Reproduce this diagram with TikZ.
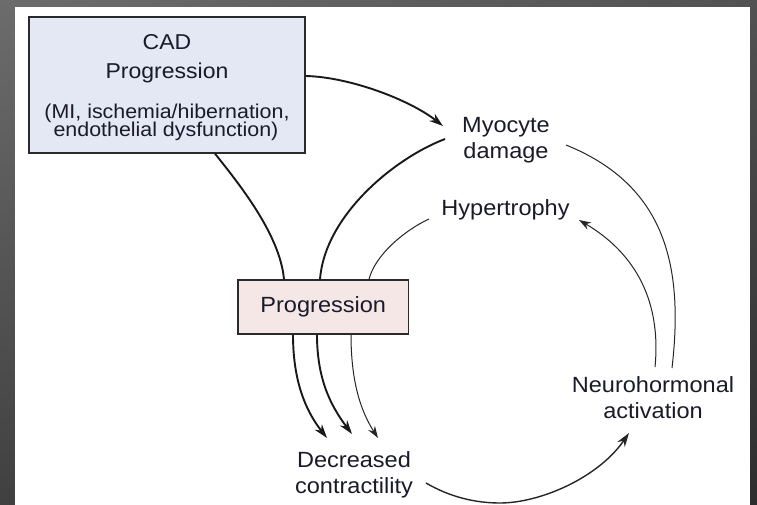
\documentclass[tikz,border=0pt]{standalone}
\usepackage{fontspec}
\setmainfont{Liberation Sans}[FakeStretch=1.07]
\usetikzlibrary{arrows.meta,shadings}
\definecolor{txt}{HTML}{1A1A2A}
\definecolor{cadfill}{HTML}{E4E7F4}
\definecolor{progfill}{HTML}{F6E7E7}
\definecolor{edgec}{HTML}{2A2A2A}
\definecolor{bgul}{HTML}{6C6C6C}
\definecolor{bgur}{HTML}{525252}
\definecolor{bgll}{HTML}{404040}
\definecolor{bglr}{HTML}{2E2E2E}
\begin{document}
\begin{tikzpicture}[x=1pt,y=1pt,
  thickline/.style={line width=1.9pt, draw=black!90},
  thinline/.style={line width=1.0pt, draw=black!85},
  midline/.style={line width=1.4pt, draw=black!85},
  bigtip/.style={-{Stealth[length=14pt,width=9pt,inset=4.5pt]}},
  smalltip/.style={-{Stealth[length=12pt,width=8pt,inset=4pt]}},
  boxstyle/.style={draw=edgec, line width=1.3pt, inner sep=0pt},
  lbl/.style={text=txt, font=\fontsize{22}{26}\selectfont, align=center, inner sep=0pt},
]
\shade[upper left=bgul, upper right=bgur, lower left=bgll, lower right=bglr] (0,0) rectangle (757,-505);
\fill[white] (15,-7) rectangle (750,-505);
\useasboundingbox (0,0) rectangle (757,-505);

% boxes
\node[boxstyle, fill=cadfill, minimum width=276pt, minimum height=136pt] (cad) at (167,-85) {};
\node[text=txt, inner sep=0pt, anchor=base, font=\fontsize{21.5}{24}\selectfont] (cadt1) at (167,-50) {CAD};
\node[text=txt, inner sep=0pt, anchor=base, font=\fontsize{21.5}{24}\selectfont] (cadt2) at (167,-78.5) {Progression};
\node[text=txt, inner sep=0pt, anchor=base, font=\fontsize{20}{22}\selectfont] (cadt3) at (167,-118.3) {(MI, ischemia/hibernation,};
\node[text=txt, inner sep=0pt, anchor=base, font=\fontsize{20}{22}\selectfont] (cadt4) at (166,-136.7) {endothelial dysfunction)};

\node[boxstyle, fill=progfill, minimum width=170.5pt, minimum height=54pt, text=txt, font=\fontsize{22}{26}\selectfont] (prog) at (323.25,-307) {Progression};

% labels
\node[lbl] (myo) at (506,-140.7) {Myocyte\\damage};
\node[lbl] (hyp) at (505.5,-209.4) {Hypertrophy};
\node[lbl] (neuro) at (653,-398) {Neurohormonal\\activation};
\node[lbl] (dec) at (354,-474.4) {Decreased\\contractility};

% connector ends
\coordinate (myoin) at (443,-126);
\coordinate (myoL) at (445,-139);
\coordinate (myoR) at (566,-145);
\coordinate (hypL) at (429,-219);
\coordinate (hypR) at (579,-220);
\coordinate (neuT1) at (672,-368);
\coordinate (neuT2) at (655,-367);
\coordinate (neuIn) at (629,-433);
\coordinate (decR) at (426,-483);
\coordinate (decB) at (500,-503);
\coordinate (decT1) at (327,-438);
\coordinate (decT2) at (352,-434);
\coordinate (decT3) at (378,-438);

% connectors
\draw[thickline, bigtip] ([yshift=9pt]cad.east) .. controls (350,-77) and (410,-100) .. (myoin);
\draw[thickline] ([xshift=48pt]cad.south) .. controls (240,-185) and (280,-235) .. ([xshift=-39.25pt]prog.north);
\draw[thickline] (myoL) .. controls (395,-158) and (325,-215) .. ([xshift=-3.25pt]prog.north);
\draw[thinline] (hypL) .. controls (405,-230) and (375,-255) .. ([xshift=45.75pt]prog.north);
\draw[thinline] (myoR) .. controls (665,-185) and (684,-265) .. (neuT1);
\draw[thinline, smalltip] (neuT2) .. controls (662,-295) and (630,-250) .. (hypR);
\draw[thickline, bigtip] ([xshift=-30.25pt]prog.south) .. controls (293,-380) and (305,-410) .. (decT1);
\draw[thickline, bigtip] ([xshift=-6.25pt]prog.south) .. controls (317,-378) and (330,-405) .. (decT2);
\draw[thinline, smalltip] ([xshift=27.75pt]prog.south) .. controls (351,-380) and (360,-410) .. (decT3);
\draw[midline, bigtip] (decR) .. controls (450,-497) and (475,-503) .. (decB) .. controls (540,-503) and (598,-478) .. (neuIn);
\end{tikzpicture}
\end{document}
